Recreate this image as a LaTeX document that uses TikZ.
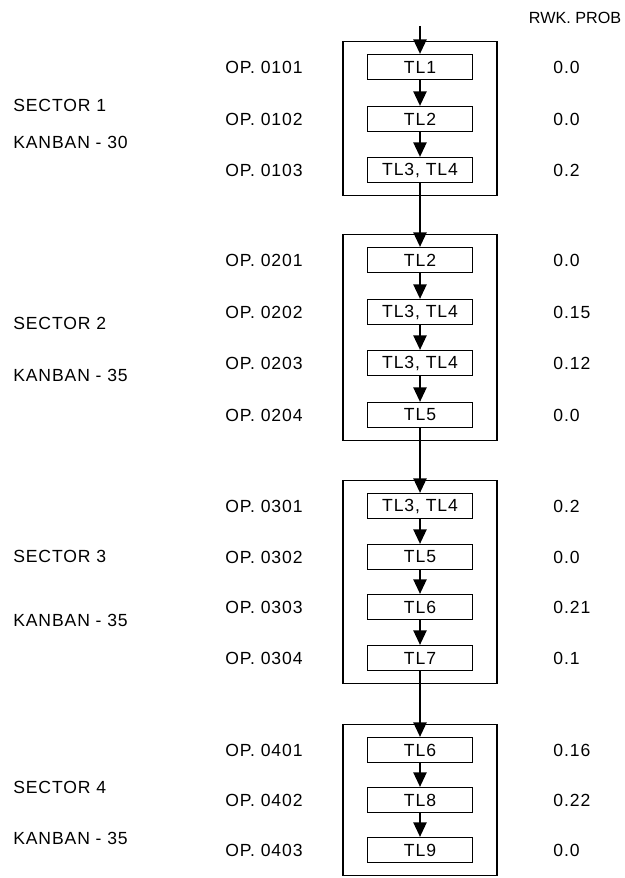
\documentclass[tikz,border=0pt]{standalone}
\usepackage{fontspec}
\setmainfont[LetterSpace=5]{Liberation Sans}
\newfontfamily\headfont{Liberation Sans}
\usetikzlibrary{arrows.meta, positioning, fit}

\begin{document}
\begin{tikzpicture}[
    x=0.025cm, y=-0.025cm,
    node distance=1.6cm and 1.6cm,
    tlbox/.style={draw, line width=0.9pt, minimum width=2.625cm, minimum height=0.625cm, inner sep=0pt, font=\fontsize{12.5}{15}\selectfont},
    sector/.style={draw, line width=1.1pt, inner xsep=0.6cm, inner ysep=0.31cm},
    lbl/.style={inner sep=0pt, font=\fontsize{12.5}{15}\selectfont},
    oplbl/.style={lbl, left=1.6cm of #1},
    prob/.style={lbl, right=2cm of #1},
    arrow/.style={-{Triangle[length=3.6mm, width=3.3mm]}, line width=1pt}
]
    \useasboundingbox (0,0) rectangle (624,878);

    \node[lbl, font=\headfont\fontsize{11.5}{14}\selectfont] (head) at (575,18) {RWK. PROB};
    \coordinate (entry) at (420,26);

    % sector 1
    \node[tlbox] (t11) at (420,67) {TL1};
    \node[tlbox] (t12) at (420,119) {TL2};
    \node[tlbox] (t13) at (420,170) {TL3, TL4};
    \node[sector, fit=(t11)(t13)] (s1) {};
    \node[oplbl=t11] (o11) {OP. 0101};
    \node[oplbl=t12] (o12) {OP. 0102};
    \node[oplbl=t13] (o13) {OP. 0103};
    \node[prob=t11] (p11) {0.0};
    \node[prob=t12] (p12) {0.0};
    \node[prob=t13] (p13) {0.2};
    \node[lbl, anchor=west] (sec1) at (13,105) {SECTOR 1};
    \node[lbl, anchor=west] (kan1) at (13,142) {KANBAN - 30};

    % sector 2
    \node[tlbox] (t21) at (420,260) {TL2};
    \node[tlbox] (t22) at (420,312) {TL3, TL4};
    \node[tlbox] (t23) at (420,363) {TL3, TL4};
    \node[tlbox] (t24) at (420,415) {TL5};
    \node[sector, fit=(t21)(t24)] (s2) {};
    \node[oplbl=t21] (o21) {OP. 0201};
    \node[oplbl=t22] (o22) {OP. 0202};
    \node[oplbl=t23] (o23) {OP. 0203};
    \node[oplbl=t24] (o24) {OP. 0204};
    \node[prob=t21] (p21) {0.0};
    \node[prob=t22] (p22) {0.15};
    \node[prob=t23] (p23) {0.12};
    \node[prob=t24] (p24) {0.0};
    \node[lbl, anchor=west] (sec2) at (13,323) {SECTOR 2};
    \node[lbl, anchor=west] (kan2) at (13,375) {KANBAN - 35};

    % sector 3
    \node[tlbox] (t31) at (420,506) {TL3, TL4};
    \node[tlbox] (t32) at (420,557) {TL5};
    \node[tlbox] (t33) at (420,607) {TL6};
    \node[tlbox] (t34) at (420,658) {TL7};
    \node[sector, fit=(t31)(t34)] (s3) {};
    \node[oplbl=t31] (o31) {OP. 0301};
    \node[oplbl=t32] (o32) {OP. 0302};
    \node[oplbl=t33] (o33) {OP. 0303};
    \node[oplbl=t34] (o34) {OP. 0304};
    \node[prob=t31] (p31) {0.2};
    \node[prob=t32] (p32) {0.0};
    \node[prob=t33] (p33) {0.21};
    \node[prob=t34] (p34) {0.1};
    \node[lbl, anchor=west] (sec3) at (13,556) {SECTOR 3};
    \node[lbl, anchor=west] (kan3) at (13,620) {KANBAN - 35};

    % sector 4
    \node[tlbox] (t41) at (420,750) {TL6};
    \node[tlbox] (t42) at (420,800) {TL8};
    \node[tlbox] (t43) at (420,850) {TL9};
    \node[sector, fit=(t41)(t43)] (s4) {};
    \node[oplbl=t41] (o41) {OP. 0401};
    \node[oplbl=t42] (o42) {OP. 0402};
    \node[oplbl=t43] (o43) {OP. 0403};
    \node[prob=t41] (p41) {0.16};
    \node[prob=t42] (p42) {0.22};
    \node[prob=t43] (p43) {0.0};
    \node[lbl, anchor=west] (sec4) at (13,787) {SECTOR 4};
    \node[lbl, anchor=west] (kan4) at (13,838) {KANBAN - 35};

    \draw[arrow] (entry) -- (t11);
    \draw[arrow] (t11) -- (t12);
    \draw[arrow] (t12) -- (t13);
    \draw[arrow] (t13) -- (t21);
    \draw[arrow] (t21) -- (t22);
    \draw[arrow] (t22) -- (t23);
    \draw[arrow] (t23) -- (t24);
    \draw[arrow] (t24) -- (t31);
    \draw[arrow] (t31) -- (t32);
    \draw[arrow] (t32) -- (t33);
    \draw[arrow] (t33) -- (t34);
    \draw[arrow] (t34) -- (t41);
    \draw[arrow] (t41) -- (t42);
    \draw[arrow] (t42) -- (t43);
\end{tikzpicture}
\end{document}
